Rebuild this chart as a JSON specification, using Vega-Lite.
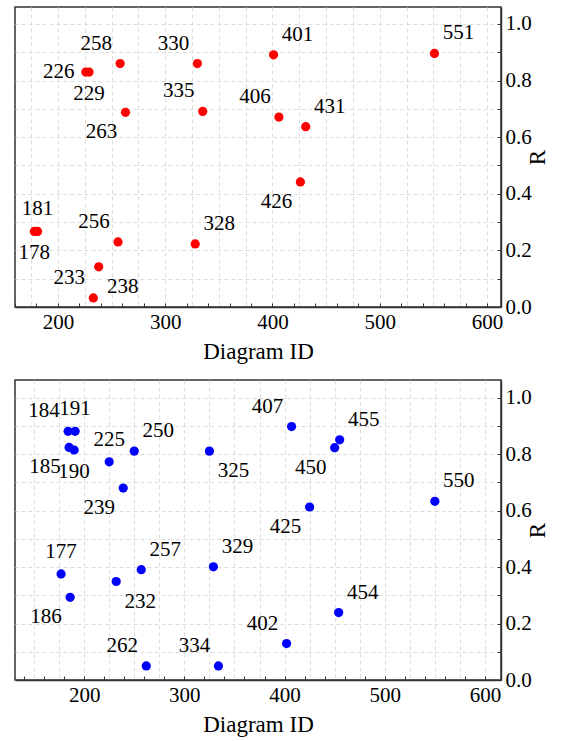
{
  "$schema": "https://vega.github.io/schema/vega-lite/v6.json",
  "padding": {"top": 6, "left": 13, "right": 0, "bottom": 0},
  "spacing": 15,
  "datasets": {
    "upper": [
      {"id": 178, "R": 0.267}, {"id": 181, "R": 0.267}, {"id": 226, "R": 0.830}, {"id": 229, "R": 0.830},
      {"id": 233, "R": 0.032}, {"id": 238, "R": 0.142}, {"id": 256, "R": 0.230}, {"id": 258, "R": 0.860},
      {"id": 263, "R": 0.688}, {"id": 328, "R": 0.223}, {"id": 330, "R": 0.860}, {"id": 335, "R": 0.691},
      {"id": 401, "R": 0.891}, {"id": 406, "R": 0.671}, {"id": 426, "R": 0.442}, {"id": 431, "R": 0.637},
      {"id": 551, "R": 0.896}
    ],
    "lower": [
      {"id": 177, "R": 0.376}, {"id": 184, "R": 0.881}, {"id": 185, "R": 0.824}, {"id": 186, "R": 0.293},
      {"id": 190, "R": 0.815}, {"id": 191, "R": 0.881}, {"id": 225, "R": 0.773}, {"id": 232, "R": 0.349},
      {"id": 239, "R": 0.680}, {"id": 250, "R": 0.811}, {"id": 257, "R": 0.391}, {"id": 262, "R": 0.050},
      {"id": 325, "R": 0.811}, {"id": 329, "R": 0.401}, {"id": 334, "R": 0.050}, {"id": 402, "R": 0.129},
      {"id": 407, "R": 0.898}, {"id": 425, "R": 0.613}, {"id": 450, "R": 0.823}, {"id": 454, "R": 0.239},
      {"id": 455, "R": 0.851}, {"id": 550, "R": 0.633}
    ]
  },
  "vconcat": [
    {
      "width": 486, "height": 300,
      "data": {"name": "upper"},
      "encoding": {
        "x": {"field": "id", "type": "quantitative", "scale": {"domain": [160, 613], "nice": false, "zero": false},
          "axis": {"title": "Diagram ID",
            "values": [160,175,180,200,220,225,240,250,260,275,280,300,320,325,340,350,360,375,380,400,420,425,440,450,460,475,480,500,520,525,540,550,560,575,580,600],
            "labelExpr": "datum.value % 100 === 0 ? datum.label : ''",
            "gridOpacity": {"condition": {"test": "datum.value % 25 === 0", "value": 1}, "value": 0},
            "tickOpacity": {"condition": {"test": "datum.value % 20 === 0", "value": 1}, "value": 0}}},
        "y": {"field": "R", "type": "quantitative", "scale": {"domain": [0, 1.06], "nice": false, "zero": true},
          "axis": {"title": "R", "orient": "right", "titleAngle": -90,
            "values": [0,0.1,0.2,0.3,0.4,0.5,0.6,0.7,0.8,0.9,1.0],
            "labelExpr": "round(datum.value*10) % 2 === 0 ? format(datum.value, '.1f') : ''"}}
      },
      "layer": [
        {"mark": {"type": "circle", "size": 85, "color": "#ff0000", "opacity": 1}},
        {"transform": [{"filter": {"field": "id", "oneOf": [258, 330, 335, 406, 256, 233]}}],
         "mark": {"type": "text", "dx": -24, "dy": -20}, "encoding": {"text": {"field": "id", "type": "nominal"}}},
        {"transform": [{"filter": {"field": "id", "oneOf": [401, 431, 551, 328]}}],
         "mark": {"type": "text", "dx": 24, "dy": -20}, "encoding": {"text": {"field": "id", "type": "nominal"}}},
        {"transform": [{"filter": {"field": "id", "oneOf": [263, 426]}}],
         "mark": {"type": "text", "dx": -24, "dy": 20}, "encoding": {"text": {"field": "id", "type": "nominal"}}},
        {"transform": [{"filter": {"field": "id", "oneOf": [238]}}],
         "mark": {"type": "text", "dx": 24, "dy": 20}, "encoding": {"text": {"field": "id", "type": "nominal"}}},
        {"transform": [{"filter": {"field": "id", "oneOf": [181]}}],
         "mark": {"type": "text", "dx": 0, "dy": -22}, "encoding": {"text": {"field": "id", "type": "nominal"}}},
        {"transform": [{"filter": {"field": "id", "oneOf": [178, 229]}}],
         "mark": {"type": "text", "dx": 0, "dy": 22}, "encoding": {"text": {"field": "id", "type": "nominal"}}},
        {"transform": [{"filter": {"field": "id", "oneOf": [226]}}],
         "mark": {"type": "text", "dx": -27, "dy": 0}, "encoding": {"text": {"field": "id", "type": "nominal"}}}
      ]
    },
    {
      "width": 486, "height": 300,
      "data": {"name": "lower"},
      "encoding": {
        "x": {"field": "id", "type": "quantitative", "scale": {"domain": [131, 616], "nice": false, "zero": false},
          "axis": {"title": "Diagram ID",
            "values": [140,150,160,175,180,200,220,225,240,250,260,275,280,300,320,325,340,350,360,375,380,400,420,425,440,450,460,475,480,500,520,525,540,550,560,575,580,600],
            "labelExpr": "datum.value % 100 === 0 ? datum.label : ''",
            "gridOpacity": {"condition": {"test": "datum.value % 25 === 0", "value": 1}, "value": 0},
            "tickOpacity": {"condition": {"test": "datum.value % 20 === 0", "value": 1}, "value": 0}}},
        "y": {"field": "R", "type": "quantitative", "scale": {"domain": [0, 1.063], "nice": false, "zero": true},
          "axis": {"title": "R", "orient": "right", "titleAngle": -90,
            "values": [0,0.1,0.2,0.3,0.4,0.5,0.6,0.7,0.8,0.9,1.0],
            "labelExpr": "round(datum.value*10) % 2 === 0 ? format(datum.value, '.1f') : ''"}}
      },
      "layer": [
        {"mark": {"type": "circle", "size": 85, "color": "#0000ff", "opacity": 1}},
        {"transform": [{"filter": {"field": "id", "oneOf": [184, 407, 262, 334, 402]}}],
         "mark": {"type": "text", "dx": -24, "dy": -20}, "encoding": {"text": {"field": "id", "type": "nominal"}}},
        {"transform": [{"filter": {"field": "id", "oneOf": [250, 455, 550, 257, 329, 454]}}],
         "mark": {"type": "text", "dx": 24, "dy": -20}, "encoding": {"text": {"field": "id", "type": "nominal"}}},
        {"transform": [{"filter": {"field": "id", "oneOf": [185, 239, 450, 425, 186]}}],
         "mark": {"type": "text", "dx": -24, "dy": 20}, "encoding": {"text": {"field": "id", "type": "nominal"}}},
        {"transform": [{"filter": {"field": "id", "oneOf": [325, 232]}}],
         "mark": {"type": "text", "dx": 24, "dy": 20}, "encoding": {"text": {"field": "id", "type": "nominal"}}},
        {"transform": [{"filter": {"field": "id", "oneOf": [191, 225, 177]}}],
         "mark": {"type": "text", "dx": 0, "dy": -22}, "encoding": {"text": {"field": "id", "type": "nominal"}}},
        {"transform": [{"filter": {"field": "id", "oneOf": [190]}}],
         "mark": {"type": "text", "dx": 0, "dy": 22}, "encoding": {"text": {"field": "id", "type": "nominal"}}}
      ]
    }
  ],
  "config": {
    "view": {"stroke": "#333333", "strokeWidth": 1.5},
    "text": {"font": "Liberation Serif", "fontSize": 21, "color": "#000000", "align": "center", "baseline": "middle"},
    "axis": {
      "labelFont": "Liberation Serif", "labelFontSize": 21, "labelColor": "#000000",
      "titleFont": "Liberation Serif", "titleFontSize": 23, "titleFontWeight": "normal", "titleColor": "#000000",
      "domainColor": "#333333", "domainWidth": 1.5,
      "tickColor": "#333333", "tickWidth": 1, "tickSize": -4,
      "gridColor": "#dddddd", "gridDash": [4, 3], "gridWidth": 1,
      "labelPadding": 8, "titlePadding": 8, "labelFlush": false, "labelOverlap": false
    },
    "axisRight": {"labelPadding": 8, "titlePadding": 18}
  }
}
